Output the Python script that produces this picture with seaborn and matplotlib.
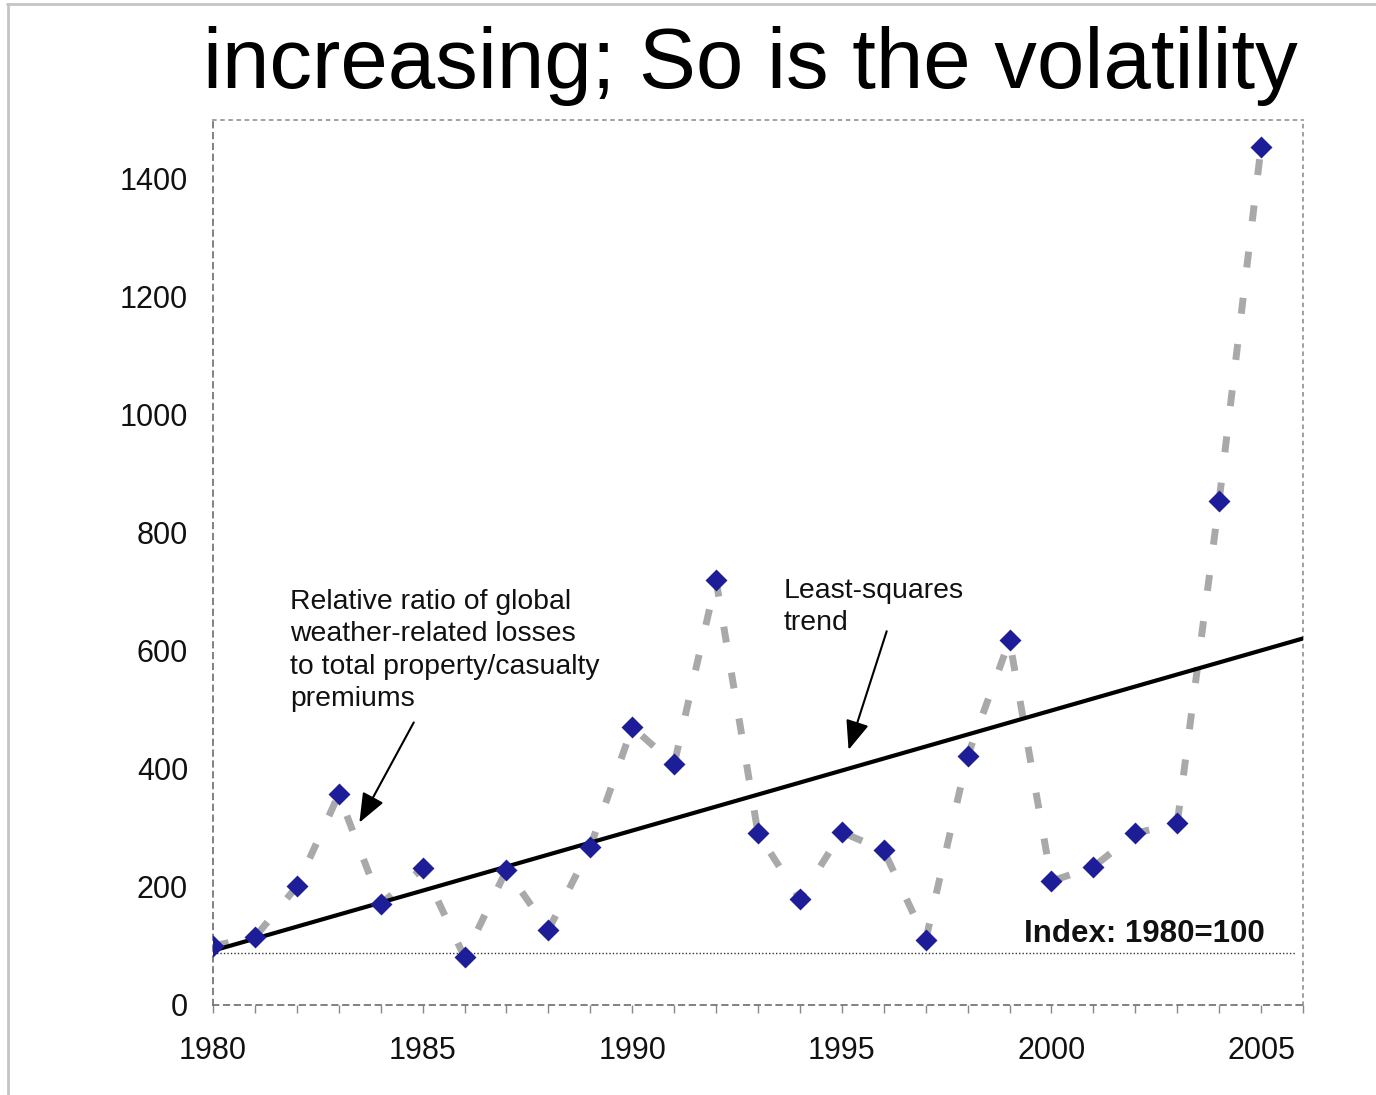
import numpy as np
import pandas as pd
import matplotlib
matplotlib.use("Agg")
import matplotlib.pyplot as plt
from matplotlib.lines import Line2D
import seaborn as sns

# Index of global weather-related losses relative to P/C premiums (1980 = 100)
years = list(range(1980, 2006))
loss_ratio_index = [100, 115, 201, 357, 171, 232, 81, 229, 127, 268,
                    471, 408, 720, 291, 180, 293, 262, 110, 422, 618,
                    210, 234, 291, 308, 855, 1455]
baseline_level = 88

y_ticks = [0, 200, 400, 600, 800, 1000, 1200, 1400]
x_ticks = [1980, 1985, 1990, 1995, 2000, 2005]

title_text = "increasing; So is the volatility"
series_note = ("Relative ratio of global\nweather-related losses\n"
               "to total property/casualty\npremiums")
trend_note = "Least-squares\ntrend"
index_note = "Index: 1980=100"

df = pd.DataFrame({"year": years, "ratio": loss_ratio_index})

sns.set_theme(style="white")
plt.rcParams["font.family"] = ["Liberation Sans", "DejaVu Sans"]

W, H = 1376, 1095
fig = plt.figure(figsize=(W / 100, H / 100), dpi=100)
ax = fig.add_axes([213 / W, 1 - 1005 / H, (1303 - 213) / W, (1005 - 120) / H])
ax.set_xlim(1980, 2006)
ax.set_ylim(0, 1500)

# thick dashed grey connector
sns.lineplot(data=df, x="year", y="ratio", ax=ax, color="#a9a9a9",
             linewidth=5, zorder=2)
ax.lines[-1].set_dashes([2.3, 4.4])

# least-squares trend across the full axis width
sns.regplot(data=df, x="year", y="ratio", ax=ax, scatter=False, ci=None,
            truncate=False, color="black", line_kws={"linewidth": 3, "zorder": 3})
ax.set_xlim(1980, 2006)
ax.set_ylim(0, 1500)

# index reference line
ax.hlines(baseline_level, 1980, 2005.8, colors="#333333", linestyles=(0, (1, 1.5)),
          linewidth=1.0, zorder=1)

# data markers
sns.scatterplot(data=df, x="year", y="ratio", ax=ax, marker="D", s=125,
                color="#1d1d98", edgecolor="#1d1d98", linewidth=0, zorder=4)

# axes styling
ax.set_xlabel("")
ax.set_ylabel("")
ax.set_yticks(y_ticks)
ax.set_xticks(x_ticks)
ax.set_xticks(years + [2006], minor=True)
ax.tick_params(axis="both", which="both", direction="out", length=6, width=1,
               color="#888888", labelsize=22, labelcolor="#111111")
ax.tick_params(axis="y", pad=12)
ax.tick_params(axis="x", which="major", pad=16, bottom=True)
ax.tick_params(axis="x", which="minor", bottom=True)

for side in ["left", "bottom"]:
    ax.spines[side].set_linestyle((0, (3, 3)))
    ax.spines[side].set_color("#777777")
    ax.spines[side].set_linewidth(1.3)
for side in ["top", "right"]:
    ax.spines[side].set_linestyle((0, (1.5, 3)))
    ax.spines[side].set_color("#999999")
    ax.spines[side].set_linewidth(1.3)

# annotations (baseline of the last line)
arrow_style = "-|>,head_length=1.5,head_width=0.6"
ax.text(1981.84, 506, series_note, fontsize=20.4, color="#111111",
        va="baseline", ha="left", linespacing=1.33)
ax.annotate("", xy=(1983.46, 305), xytext=(1984.82, 483),
            arrowprops=dict(arrowstyle=arrow_style, color="black", linewidth=1.5))
ax.text(1993.6, 635, trend_note, fontsize=20.4, color="#111111",
        va="baseline", ha="left", linespacing=1.33)
ax.annotate("", xy=(1995.14, 428), xytext=(1996.09, 638),
            arrowprops=dict(arrowstyle=arrow_style, color="black", linewidth=1.5))
ax.text(1999.34, 107, index_note, fontsize=22.5, fontweight="bold",
        color="#111111", va="baseline", ha="left")

# title
fig.text(203 / W, 1 - 88 / H, title_text, fontsize=61.4, color="black",
         ha="left", va="baseline")

# slide frame
fig.add_artist(Line2D([7 / W, 1], [1 - 4 / H, 1 - 4 / H], color="#c4c4c4",
                      linewidth=2, transform=fig.transFigure))
fig.add_artist(Line2D([8 / W, 8 / W], [0, 1 - 4 / H], color="#c4c4c4",
                      linewidth=2, transform=fig.transFigure))

fig.savefig("out.png", dpi=100, facecolor="white")
